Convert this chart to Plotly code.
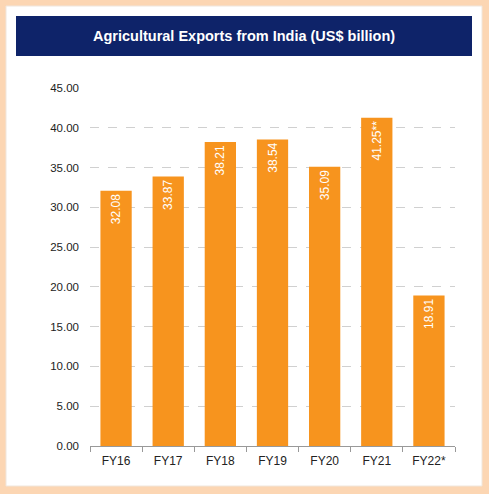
import plotly.graph_objects as go

categories = ["FY16", "FY17", "FY18", "FY19", "FY20", "FY21", "FY22*"]
values = [32.08, 33.87, 38.21, 38.54, 35.09, 41.25, 18.91]
labels = ["32.08", "33.87", "38.21", "38.54", "35.09", "41.25**", "18.91"]
y_ticks = [0, 5, 10, 15, 20, 25, 30, 35, 40, 45]

L, R, T, B = 90, 34, 88, 48
W, H = 489, 494
pw, ph = W - L - R, H - T - B

def px(x):
    return (x - L) / pw

def py(y):
    return (H - B - y) / ph

fig = go.Figure()
fig.add_trace(go.Bar(
    x=categories, y=values, text=labels,
    marker=dict(color="#F7941E", line=dict(width=0)),
    textposition="inside", insidetextanchor="end", textangle=-90,
    textfont=dict(color="white", size=12, family="Liberation Sans"),
    cliponaxis=False,
))

shapes = [
    dict(type="rect", xref="paper", yref="paper", x0=px(6), x1=px(482), y0=py(486), y1=py(6),
         fillcolor="white", line=dict(width=1, color="#F0E6DC"), layer="below"),
    dict(type="rect", xref="paper", yref="paper", x0=px(16), x1=px(472), y0=py(56), y1=py(16),
         fillcolor="#0E2369", line=dict(width=0), layer="below"),
]

fig.update_layout(
    width=W, height=H,
    margin=dict(l=L, r=R, t=T, b=B),
    paper_bgcolor="#FCD6B3",
    plot_bgcolor="rgba(0,0,0,0)",
    bargap=0.4,
    showlegend=False,
    shapes=shapes,
    annotations=[dict(text="<b>Agricultural Exports from India (US$ billion)</b>",
                      xref="paper", yref="paper", x=px(244), y=py(36),
                      showarrow=False, xanchor="center", yanchor="middle",
                      font=dict(color="white", size=14.5, family="Liberation Sans"))],
    font=dict(family="Liberation Sans", size=11, color="#222222"),
)
fig.update_xaxes(showline=True, linecolor="#999999", linewidth=1,
                 ticks="outside", tickson="boundaries", ticklen=5, tickcolor="#999999",
                 ticklabelstandoff=4,
                 tickfont=dict(size=12, color="#222222"), showgrid=False)
fig.update_yaxes(range=[0, 45], tickvals=y_ticks, tickformat=".2f",
                 showgrid=True, gridcolor="#D0D0D0", griddash="dash", gridwidth=1,
                 zeroline=False, showline=False, ticks="", ticklen=0,
                 ticklabelstandoff=10,
                 tickfont=dict(size=11.5, color="#222222"))

fig.write_html("out.html", config={"displayModeBar": False},
               post_script="document.body.style.margin='0';")
